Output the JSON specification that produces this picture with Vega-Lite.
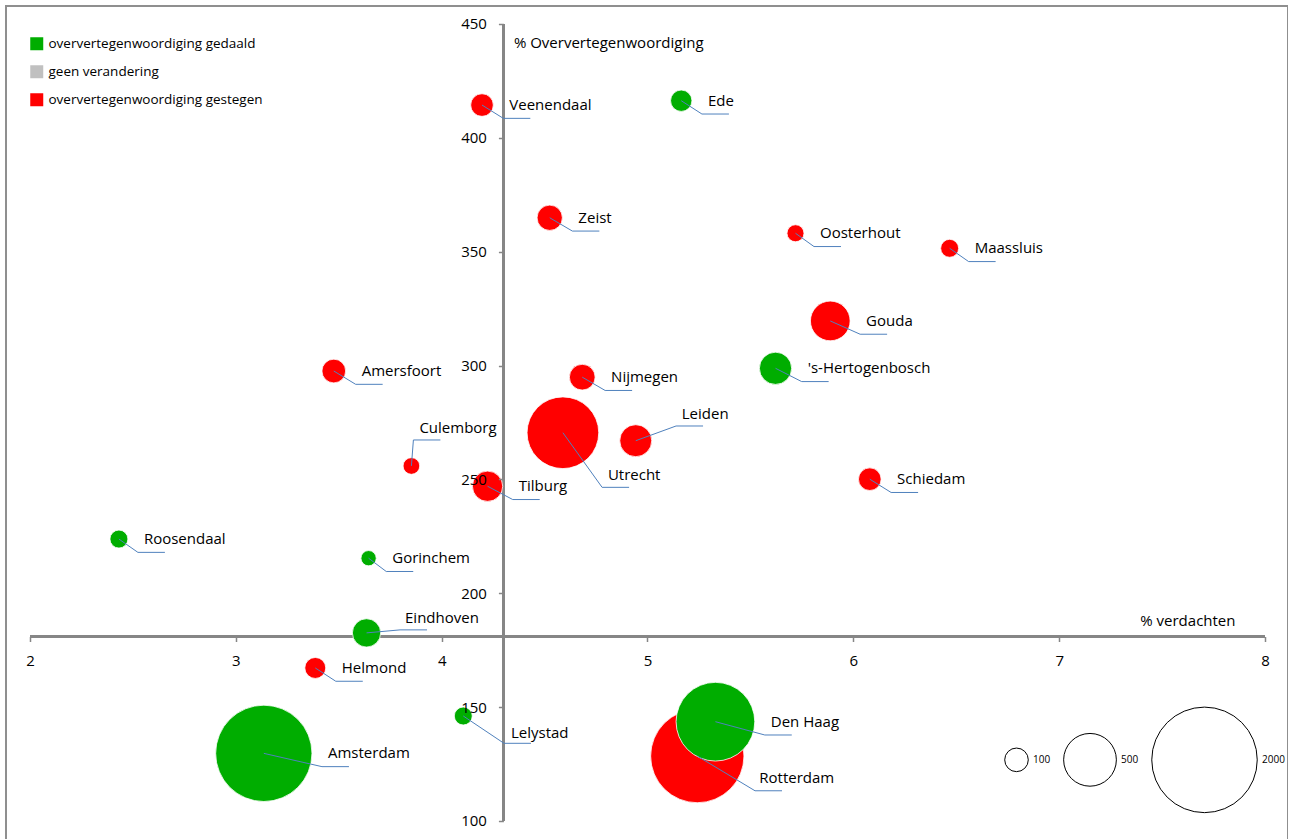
{
  "$schema": "https://vega.github.io/schema/vega-lite/v6.json",
  "width": 1282,
  "height": 839,
  "autosize": "none",
  "padding": {"left": 6, "top": 6, "right": 0, "bottom": 0},
  "background": "white",
  "config": {
    "view": {"stroke": "#8f8f8f", "strokeWidth": 2},
    "font": "Open Sans",
    "axis": {
      "grid": false,
      "domain": false,
      "labelFont": "Open Sans",
      "labelFontSize": 15,
      "labelColor": "#000000",
      "tickColor": "#868686",
      "tickWidth": 1.5,
      "tickSize": 5,
      "labelPadding": 12,
      "titleFont": "Open Sans",
      "titleFontSize": 15,
      "titleFontWeight": "normal",
      "titleColor": "#000000",
      "labelOverlap": false,
      "labelFlush": false
    },
    "legend": {
      "labelFont": "Open Sans",
      "labelColor": "#000000",
      "labelLimit": 0,
      "padding": 0
    }
  },
  "data": {
    "values": [
      {"stad": "Veenendaal", "verdachten": 4.196, "oververtegenwoordiging": 414.4, "aantal": 92, "verandering": "oververtegenwoordiging gestegen"},
      {"stad": "Ede", "verdachten": 5.164, "oververtegenwoordiging": 416.3, "aantal": 82, "verandering": "oververtegenwoordiging gedaald"},
      {"stad": "Zeist", "verdachten": 4.525, "oververtegenwoordiging": 364.9, "aantal": 115, "verandering": "oververtegenwoordiging gestegen"},
      {"stad": "Oosterhout", "verdachten": 5.719, "oververtegenwoordiging": 358.1, "aantal": 52, "verandering": "oververtegenwoordiging gestegen"},
      {"stad": "Maassluis", "verdachten": 6.468, "oververtegenwoordiging": 351.5, "aantal": 58, "verandering": "oververtegenwoordiging gestegen"},
      {"stad": "Gouda", "verdachten": 5.888, "oververtegenwoordiging": 319.6, "aantal": 283, "verandering": "oververtegenwoordiging gestegen"},
      {"stad": "'s-Hertogenbosch", "verdachten": 5.622, "oververtegenwoordiging": 298.8, "aantal": 187, "verandering": "oververtegenwoordiging gedaald"},
      {"stad": "Amersfoort", "verdachten": 3.476, "oververtegenwoordiging": 297.6, "aantal": 101, "verandering": "oververtegenwoordiging gestegen"},
      {"stad": "Nijmegen", "verdachten": 4.683, "oververtegenwoordiging": 294.9, "aantal": 119, "verandering": "oververtegenwoordiging gestegen"},
      {"stad": "Utrecht", "verdachten": 4.589, "oververtegenwoordiging": 270.5, "aantal": 924, "verandering": "oververtegenwoordiging gestegen"},
      {"stad": "Leiden", "verdachten": 4.943, "oververtegenwoordiging": 267.0, "aantal": 184, "verandering": "oververtegenwoordiging gestegen"},
      {"stad": "Culemborg", "verdachten": 3.853, "oververtegenwoordiging": 255.9, "aantal": 50, "verandering": "oververtegenwoordiging gestegen"},
      {"stad": "Tilburg", "verdachten": 4.223, "oververtegenwoordiging": 247.0, "aantal": 165, "verandering": "oververtegenwoordiging gestegen"},
      {"stad": "Schiedam", "verdachten": 6.08, "oververtegenwoordiging": 250.1, "aantal": 92, "verandering": "oververtegenwoordiging gestegen"},
      {"stad": "Roosendaal", "verdachten": 2.432, "oververtegenwoordiging": 223.8, "aantal": 58, "verandering": "oververtegenwoordiging gedaald"},
      {"stad": "Gorinchem", "verdachten": 3.645, "oververtegenwoordiging": 215.4, "aantal": 42, "verandering": "oververtegenwoordiging gedaald"},
      {"stad": "Eindhoven", "verdachten": 3.635, "oververtegenwoordiging": 182.6, "aantal": 144, "verandering": "oververtegenwoordiging gedaald"},
      {"stad": "Helmond", "verdachten": 3.386, "oververtegenwoordiging": 167.2, "aantal": 79, "verandering": "oververtegenwoordiging gestegen"},
      {"stad": "Lelystad", "verdachten": 4.105, "oververtegenwoordiging": 146.1, "aantal": 58, "verandering": "oververtegenwoordiging gedaald"},
      {"stad": "Amsterdam", "verdachten": 3.136, "oververtegenwoordiging": 129.7, "aantal": 1666, "verandering": "oververtegenwoordiging gedaald"},
      {"stad": "Rotterdam", "verdachten": 5.242, "oververtegenwoordiging": 128.5, "aantal": 1564, "verandering": "oververtegenwoordiging gestegen"},
      {"stad": "Den Haag", "verdachten": 5.33, "oververtegenwoordiging": 143.6, "aantal": 1113, "verandering": "oververtegenwoordiging gedaald"}
    ]
  },
  "encoding": {
    "x": {
      "field": "verdachten", "type": "quantitative",
      "scale": {"domain": [1.8834, 8.1118], "nice": false, "zero": false},
      "axis": {
        "values": [2, 3, 4, 5, 6, 7, 8], "format": "d", "offset": -208.5, "zindex": 2,
        "title": "% verdachten", "titleX": 1229, "titleY": -16,
        "titleAlign": "right", "titleBaseline": "middle", "titleAngle": 0
      }
    },
    "y": {
      "field": "oververtegenwoordiging", "type": "quantitative",
      "scale": {"domain": [89.45, 457.9], "nice": false, "zero": false},
      "axis": {
        "values": [100, 150, 200, 250, 300, 350, 400, 450], "format": "d", "offset": -497.4, "zindex": 2,
        "title": "% Oververtegenwoordiging", "titleX": 10, "titleY": 36,
        "titleAlign": "left", "titleBaseline": "middle", "titleAngle": 0
      }
    }
  },
  "layer": [
    {
      "mark": {"type": "rule", "color": "#868686", "strokeWidth": 2},
      "encoding": {
        "x": {"datum": 2, "type": "quantitative"},
        "x2": {"datum": 8},
        "y": {"datum": 181, "type": "quantitative"}
      }
    },
    {
      "mark": {"type": "rule", "color": "#868686", "strokeWidth": 2},
      "encoding": {
        "x": {"datum": 4.3, "type": "quantitative"},
        "y": {"datum": 100, "type": "quantitative"},
        "y2": {"datum": 450}
      }
    },
    {
      "mark": {"type": "circle", "opacity": 1, "stroke": "white", "strokeWidth": 0.8},
      "encoding": {
        "color": {
          "field": "verandering", "type": "nominal",
          "scale": {
            "domain": ["oververtegenwoordiging gedaald", "geen verandering", "oververtegenwoordiging gestegen"],
            "range": ["#00AD00", "#C0C0C0", "#FF0000"]
          },
          "legend": {
            "orient": "none", "legendX": 24, "legendY": 31, "title": null,
            "symbolType": "square", "symbolSize": 169, "symbolStrokeWidth": 0,
            "symbolOpacity": 1,
            "labelFontSize": 13.5, "labelOffset": 5, "rowPadding": 13
          }
        },
        "size": {
          "field": "aantal", "type": "quantitative",
          "scale": {"type": "linear", "domain": [0, 2000], "range": [0, 11130], "zero": true},
          "legend": {
            "orient": "none", "legendX": 998, "legendY": 700, "title": null,
            "direction": "horizontal", "values": [100, 500, 2000], "format": "d",
            "symbolType": "circle", "symbolFillColor": "transparent",
            "symbolStrokeColor": "#000000", "symbolStrokeWidth": 1,
            "labelFontSize": 10, "labelOffset": 4, "columnPadding": 10
          }
        }
      }
    },
    {
      "mark": {
        "type": "rule", "color": "#4F81BD", "strokeWidth": 1,
        "x2Offset": {"expr": "({'Culemborg':2,'Leiden':40.3,'Utrecht':39.2,'Eindhoven':33.5,'Lelystad':40.7,'Rotterdam':57.7})[datum.stad] || sqrt(datum.aantal*5.565)/2+10"},
        "y2Offset": {"expr": "({'Culemborg':-26,'Leiden':-14.7,'Utrecht':54.6,'Eindhoven':-3,'Lelystad':27.3,'Rotterdam':34.7})[datum.stad] || 13.3"}
      },
      "encoding": {
        "x2": {"field": "verdachten"},
        "y2": {"field": "oververtegenwoordiging"}
      }
    },
    {
      "mark": {
        "type": "rule", "color": "#4F81BD", "strokeWidth": 1,
        "xOffset": {"expr": "({'Culemborg':2,'Leiden':40.3,'Utrecht':39.2,'Eindhoven':33.5,'Lelystad':40.7,'Rotterdam':57.7})[datum.stad] || sqrt(datum.aantal*5.565)/2+10"},
        "x2Offset": {"expr": "(({'Culemborg':2,'Leiden':40.3,'Utrecht':39.2,'Eindhoven':33.5,'Lelystad':40.7,'Rotterdam':57.7})[datum.stad] || sqrt(datum.aantal*5.565)/2+10) + 27"},
        "yOffset": {"expr": "({'Culemborg':-26,'Leiden':-14.7,'Utrecht':54.6,'Eindhoven':-3,'Lelystad':27.3,'Rotterdam':34.7})[datum.stad] || 13.3"},
        "y2Offset": {"expr": "({'Culemborg':-26,'Leiden':-14.7,'Utrecht':54.6,'Eindhoven':-3,'Lelystad':27.3,'Rotterdam':34.7})[datum.stad] || 13.3"}
      },
      "encoding": {
        "x2": {"field": "verdachten"},
        "y2": {"field": "oververtegenwoordiging"}
      }
    },
    {
      "mark": {
        "type": "text", "align": "left", "baseline": "middle",
        "font": "Open Sans", "fontSize": 15, "color": "#000000",
        "dx": {"expr": "({'Culemborg':8,'Leiden':46,'Utrecht':45,'Eindhoven':38.5,'Lelystad':47.7,'Rotterdam':62})[datum.stad] || sqrt(datum.aantal*5.565)/2+16"},
        "dy": {"expr": "({'Culemborg':-37.7,'Leiden':-26.7,'Utrecht':42.3,'Eindhoven':-15.3,'Lelystad':16.7,'Rotterdam':22.3})[datum.stad] || 0"}
      },
      "encoding": {
        "text": {"field": "stad"}
      }
    }
  ]
}
